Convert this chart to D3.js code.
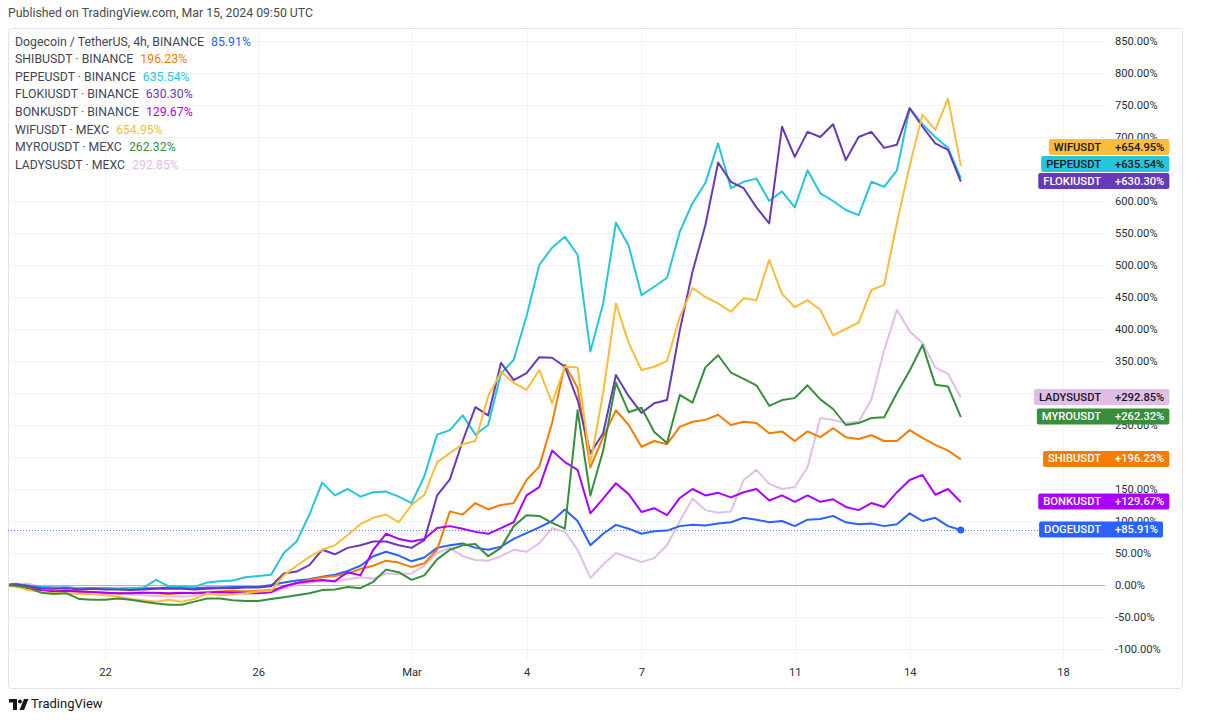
<!DOCTYPE html>
<html>
<head>
<meta charset="utf-8">
<script src="https://cdn.jsdelivr.net/npm/d3@7"></script>
<style>
body { margin: 0; background: #fff; }
svg { display: block; font-family: Roboto, "Liberation Sans", sans-serif; }
</style>
</head>
<body>
<svg id="chart" width="1216" height="720"></svg>
<script>
// 8h samples, % change since first visible bar (Feb 19 08:00 UTC)
var dogeVals  = [0,1,-1,-3,-4,-4,-5,-5,-5,-6,-5,-5,-5,-4,-4,-5,-4,-4,-3,-3,-3,0,4,7,9,13,16,22,30,45,52,46,37,43,58,62,65,58,55,60,72,81,90,100,118,100,62,80,94,88,80,84,85,92,94,93,96,98,105,102,98,100,92,102,103,108,98,95,96,92,95,112,100,105,92,85.91];
var shibVals  = [0,-1,-4,-8,-10,-9,-10,-11,-12,-13,-12,-12,-13,-14,-13,-12,-11,-10,-9,-10,-9,-8,-3,3,8,12,14,18,25,30,38,35,28,34,55,115,110,128,118,125,128,164,185,253,344,308,184,231,273,250,216,225,220,247,255,258,266,250,255,253,237,240,225,240,231,245,231,228,234,225,225,242,230,219,210,196.23];
var pepeVals  = [0,0,-1,-3,-5,-4,-5,-6,-5,-6,-5,-4,8,-2,-2,-3,4,6,7,12,14,16,50,68,110,160,140,150,138,145,146,138,128,170,235,242,265,235,250,330,352,420,500,527,544,516,365,440,566,530,453,466,480,552,597,628,690,620,630,635,600,615,590,648,612,600,586,578,630,622,648,745,720,700,683,635.54];
var flokiVals = [0,1,-2,-5,-6,-5,-7,-6,-7,-7,-8,-7,-6,-6,-6,-7,-6,-5,-5,-4,-4,-2,18,21,31,55,48,58,62,68,68,62,58,70,140,165,225,278,265,347,320,331,356,355,341,289,206,237,328,295,269,284,289,398,490,562,660,630,620,590,565,716,669,708,700,720,664,700,708,683,688,745,716,690,680,630.30];
var bonkVals  = [0,-2,-5,-8,-10,-9,-10,-11,-12,-13,-13,-12,-12,-13,-12,-13,-12,-11,-12,-12,-13,-11,-2,3,6,8,6,20,15,55,80,72,68,72,89,92,88,83,80,89,98,140,153,210,192,180,112,135,159,142,114,120,109,136,150,140,144,137,145,150,132,140,130,140,130,134,122,117,128,122,145,164,172,141,150,129.67];
var wifVals   = [0,-2,-8,-11,-13,-13,-14,-14,-16,-18,-22,-24,-26,-23,-26,-22,-13,-16,-15,-13,-10,-9,15,30,44,55,62,78,95,105,110,98,125,141,192,206,220,225,295,333,316,305,336,284,341,340,190,300,440,378,336,341,350,419,464,450,440,427,448,445,508,455,434,445,430,390,400,410,461,469,566,655,735,711,760,654.95];
var myroVals  = [0,-1,-4,-12,-14,-13,-22,-23,-23,-21,-23,-26,-29,-31,-31,-26,-21,-21,-24,-25,-25,-22,-19,-16,-13,-8,-7,-3,-5,5,24,20,8,15,40,55,62,64,45,58,92,109,108,97,88,273,140,210,316,270,277,239,222,297,285,340,359,332,322,312,280,289,292,312,290,275,250,253,261,262,300,335,375,313,310,262.32];
var ladysVals = [0,2,2,-3,-8,-10,-12,-13,-14,-14,-15,-16,-17,-18,-18,-17,-15,-14,-13,-14,-13,-12,-6,0,4,6,5,9,12,10,18,17,18,30,50,58,45,39,38,45,55,52,65,89,83,55,11,32,50,43,36,42,62,100,135,117,113,115,164,180,158,150,153,184,261,258,253,255,290,367,430,396,378,340,330,292.85];

var legendNames = ['Dogecoin / TetherUS, 4h, BINANCE', 'SHIBUSDT \u00b7 BINANCE', 'PEPEUSDT \u00b7 BINANCE', 'FLOKIUSDT \u00b7 BINANCE',
                   'BONKUSDT \u00b7 BINANCE', 'WIFUSDT \u00b7 MEXC', 'MYROUSDT \u00b7 MEXC', 'LADYSUSDT \u00b7 MEXC'];
var badgeNames  = ['DOGEUSDT', 'SHIBUSDT', 'PEPEUSDT', 'FLOKIUSDT', 'BONKUSDT', 'WIFUSDT', 'MYROUSDT', 'LADYSUSDT'];
var lineColors  = ['#2962ff', '#f57c00', '#26c6da', '#673ab7', '#aa00ff', '#f9bc3b', '#388e3c', '#e1bee7'];
var badgeText   = ['#ffffff', '#ffffff', '#131722', '#ffffff', '#ffffff', '#131722', '#ffffff', '#131722'];

var yTickValues = [850, 800, 750, 700, 650, 600, 550, 500, 450, 400, 350, 300, 250, 200, 150, 100, 50, 0, -50, -100];
var xTickDates  = ['2024-02-22', '2024-02-26', '2024-03-01', '2024-03-04', '2024-03-07', '2024-03-11', '2024-03-14', '2024-03-18'];
var xTickLabels = ['22', '26', 'Mar', '4', '7', '11', '14', '18'];

//-------------------------------------------------------------------------------------------------------------------------
var allVals = [dogeVals, shibVals, pepeVals, flokiVals, bonkVals, wifVals, myroVals, ladysVals];
var startTime = Date.UTC(2024, 1, 19, 8);
var stepMs = 8 * 3600 * 1000;
var times = dogeVals.map(function(d, i) { return new Date(startTime + i * stepMs); });
var tickDates = xTickDates.map(function(d) { return new Date(d + 'T00:00:00Z'); });

var svg = d3.select('#chart');
var frame = {left: 8, top: 28, right: 1182, bottom: 688};
var plot = {left: 8, top: 28, right: 1105, bottom: 660};

var x = d3.scaleUtc()
    .domain([tickDates[0], tickDates[tickDates.length - 1]])
    .range([105, 1063]);

var y = d3.scaleLinear()
    .domain([-100, 850])
    .range([649, 41]);

// last value badges, pushed up when they would overlap
var badgeH = 17;
var badges = allVals.map(function(v, i) {
    return {i: i, val: v[v.length - 1], cy: y(v[v.length - 1])};
}).sort((a, b) => b.cy - a.cy);
for (var j = 1; j < badges.length; j++) {
    badges[j].cy = Math.min(badges[j].cy, badges[j - 1].cy - badgeH);
}
// price labels fully hidden behind a badge are not drawn
var shownTicks = yTickValues.filter(v => !badges.some(b => Math.abs(y(v) - b.cy) < 6));

svg.append('text')
    .attr('x', 8).attr('y', 14)
    .attr('dominant-baseline', 'middle')
    .attr('font-size', '12.3px')
    .attr('fill', '#4a4a4a')
    .text('Published on TradingView.com, Mar 15, 2024 09:50 UTC');

svg.append('rect')
    .attr('x', frame.left + 0.5).attr('y', frame.top + 0.5)
    .attr('width', frame.right - frame.left).attr('height', frame.bottom - frame.top)
    .attr('rx', 3)
    .attr('fill', '#fff')
    .attr('stroke', '#e0e3eb');

// grid
svg.append('g').selectAll('line')
    .data(yTickValues)
  .enter().append('line')
    .attr('x1', plot.left).attr('x2', plot.right)
    .attr('y1', d => Math.round(y(d)) + 0.5).attr('y2', d => Math.round(y(d)) + 0.5)
    .attr('stroke', '#f0f3fa');

svg.append('g').selectAll('line')
    .data(tickDates)
  .enter().append('line')
    .attr('x1', d => Math.round(x(d)) + 0.5).attr('x2', d => Math.round(x(d)) + 0.5)
    .attr('y1', plot.top + 1).attr('y2', plot.bottom)
    .attr('stroke', '#f0f3fa');

// zero line
svg.append('line')
    .attr('x1', plot.left).attr('x2', plot.right)
    .attr('y1', Math.round(y(0)) + 0.5).attr('y2', Math.round(y(0)) + 0.5)
    .attr('stroke', '#b2b5be');

// price axis
var yAxis = svg.append('g')
    .attr('transform', 'translate(1112,0)')
    .call(d3.axisRight(y).tickValues(shownTicks).tickSize(0).tickPadding(3)
        .tickFormat(d => d.toFixed(2) + '%'));
yAxis.select('.domain').remove();
yAxis.selectAll('text')
    .attr('font-size', '11.2px')
    .attr('font-family', 'Roboto, sans-serif')
    .attr('fill', '#2a2e39');

// time axis
var xAxis = svg.append('g')
    .attr('transform', 'translate(0,665)')
    .call(d3.axisBottom(x).tickValues(tickDates).tickSize(0).tickPadding(3)
        .tickFormat((d, i) => xTickLabels[i]));
xAxis.select('.domain').remove();
xAxis.selectAll('text')
    .attr('font-size', '11.2px')
    .attr('font-family', 'Roboto, sans-serif')
    .attr('fill', '#2a2e39');

// dotted last-value line for the main symbol
svg.append('line')
    .attr('x1', plot.left).attr('x2', plot.right)
    .attr('y1', Math.round(y(dogeVals[dogeVals.length - 1])) + 0.5)
    .attr('y2', Math.round(y(dogeVals[dogeVals.length - 1])) + 0.5)
    .attr('stroke', '#2962ff')
    .attr('stroke-opacity', 0.8)
    .attr('stroke-dasharray', '1,2');

//-------------------------------------------------------------------------------------------------------------------------
svg.append('clipPath').attr('id', 'plot-clip')
  .append('rect')
    .attr('x', plot.left + 1).attr('y', plot.top + 1)
    .attr('width', plot.right - plot.left).attr('height', plot.bottom - plot.top);

var line = d3.line()
    .x((d, i) => x(times[i]))
    .y(d => y(d));

var drawOrder = [7, 0, 1, 2, 3, 4, 5, 6];
svg.append('g')
    .attr('clip-path', 'url(#plot-clip)')
    .selectAll('path')
    .data(drawOrder)
  .enter().append('path')
    .attr('d', k => line(allVals[k]))
    .attr('fill', 'none')
    .attr('stroke', k => lineColors[k])
    .attr('stroke-width', 2)
    .attr('stroke-linejoin', 'round');

svg.append('circle')
    .attr('cx', x(times[times.length - 1]))
    .attr('cy', y(dogeVals[dogeVals.length - 1]))
    .attr('r', 3.5)
    .attr('fill', '#2962ff');

// legend
var legend = svg.append('g').selectAll('text')
    .data(legendNames)
  .enter().append('text')
    .attr('x', 15)
    .attr('y', (d, i) => 42.5 + i * 17.6)
    .attr('dominant-baseline', 'middle')
    .attr('font-size', '12.3px');
legend.append('tspan')
    .attr('fill', '#434651')
    .text(d => d);
legend.append('tspan')
    .attr('dx', 7)
    .attr('fill', (d, i) => lineColors[i])
    .text((d, i) => allVals[i][allVals[i].length - 1].toFixed(2) + '%');

//-------------------------------------------------------------------------------------------------------------------------
var bg = svg.append('g').selectAll('g')
    .data(badges)
  .enter().append('g');

var rects = bg.append('rect')
    .attr('fill', d => lineColors[d.i])
    .attr('rx', 2);

var names = bg.append('text')
    .attr('x', 1101)
    .attr('y', d => d.cy)
    .attr('text-anchor', 'end')
    .attr('dominant-baseline', 'middle')
    .attr('font-size', '11.2px')
    .attr('font-weight', 500)
    .attr('fill', d => badgeText[d.i])
    .text(d => badgeNames[d.i]);

var values = bg.append('text')
    .attr('x', 1115)
    .attr('y', d => d.cy)
    .attr('dominant-baseline', 'middle')
    .attr('font-size', '11.2px')
    .attr('font-weight', 500)
    .attr('fill', d => badgeText[d.i])
    .text(d => '+' + d.val.toFixed(2) + '%');

rects.each(function(d, k) {
    var nb = names.nodes()[k].getBBox();
    var vb = values.nodes()[k].getBBox();
    d3.select(this)
        .attr('x', nb.x - 5)
        .attr('y', d.cy - badgeH / 2)
        .attr('width', vb.x + vb.width + 5 - (nb.x - 5))
        .attr('height', badgeH - 1);
});

// footer logo
var logo = svg.append('g').attr('fill', '#131722');
logo.append('path').attr('d', 'M9 699h8v11h-4v-7.5h-4z');
logo.append('circle').attr('cx', 20).attr('cy', 701.5).attr('r', 2);
logo.append('path').attr('d', 'M24 699h4.5l-4.5 11h-4.5z');
svg.append('text')
    .attr('x', 31).attr('y', 705)
    .attr('dominant-baseline', 'middle')
    .attr('font-size', '13px')
    .attr('fill', '#131722')
    .text('TradingView');
</script>
</body>
</html>
